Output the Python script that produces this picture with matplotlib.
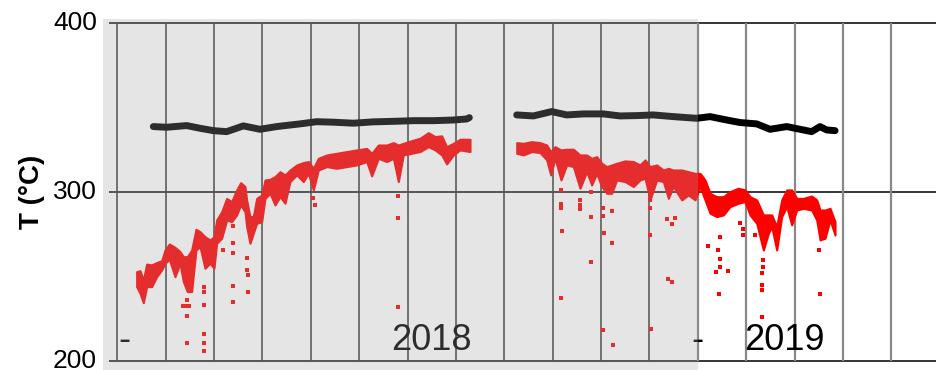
import matplotlib
matplotlib.use('Agg')
import matplotlib.pyplot as plt

plt.rcParams['font.family'] = ['Liberation Sans', 'DejaVu Sans']

# x = months since 1 Jan 2018, T in degC
black_2018_m = [0.745, 1.020, 1.434, 1.710, 1.985, 2.261, 2.606, 2.950, 3.295, 3.777, 4.122, 4.466, 4.880,
                5.293, 5.707, 6.120, 6.534, 6.947, 7.223, 7.278]
black_2018_t = [338.8, 338.4, 339.4, 337.8, 336.4, 335.8, 339.2, 337.2, 338.8, 340.4, 341.7, 341.4, 340.8,
                341.6, 341.9, 342.3, 342.3, 342.7, 343.3, 344.1]

black_2019_m = [8.257, 8.601, 8.980, 9.290, 9.635, 10.048, 10.393, 10.738, 11.082, 11.495, 11.978, 12.254,
                12.598, 12.874, 13.218, 13.494, 13.839, 14.114, 14.355, 14.528, 14.665, 14.838]
black_2019_t = [345.7, 345.1, 347.7, 345.7, 346.3, 346.3, 345.1, 345.3, 345.7, 344.7, 343.7, 344.7,
                342.7, 341.2, 340.4, 337.2, 338.8, 337.2, 335.8, 338.8, 336.8, 336.4]

red_2018_m = [0.400, 0.469, 0.538, 0.607, 0.710, 0.814, 0.917, 0.986, 1.076, 1.193, 1.296, 1.365, 1.448,
              1.537, 1.627, 1.710, 1.813, 1.916, 1.999, 2.054, 2.158, 2.261, 2.364, 2.468, 2.550, 2.640,
              2.674, 2.743, 2.812, 2.881, 2.985, 3.054, 3.157, 3.260, 3.364, 3.467, 3.570, 3.708, 3.846,
              3.949, 4.053, 4.156, 4.328, 4.535, 4.742, 4.949, 5.155, 5.259, 5.397, 5.569, 5.707, 5.810,
              5.913, 6.086, 6.258, 6.430, 6.568, 6.706, 6.809, 6.947, 7.085, 7.292]
red_2018_hi = [252.9, 253.5, 248.0, 257.4, 256.9, 258.3, 259.4, 265.7, 269.3, 267.3, 264.8, 261.8, 261.8,
               265.7, 278.0, 276.6, 273.6, 271.7, 273.6, 283.5, 288.4, 296.3, 294.4, 301.3, 305.6, 303.3,
               295.4, 285.5, 285.5, 296.3, 298.3, 307.2, 307.6, 309.2, 312.1, 310.2, 313.1, 316.1, 317.5,
               318.1, 314.1, 320.0, 322.0, 323.0, 324.0, 325.0, 325.9, 323.0, 327.9, 327.9, 329.3, 327.9,
               328.9, 330.5, 331.9, 335.2, 332.9, 333.3, 326.9, 328.9, 331.3, 331.3]
red_2018_lo = [244.0, 240.1, 234.5, 244.0, 244.0, 249.9, 253.9, 257.9, 260.2, 249.9, 257.9, 247.0, 241.1,
               241.1, 265.7, 267.7, 254.9, 257.9, 254.9, 269.7, 272.7, 283.5, 282.5, 286.5, 292.4, 288.4,
               279.6, 269.7, 275.6, 281.5, 282.5, 296.3, 299.3, 292.4, 297.3, 293.4, 306.2, 310.2, 306.2,
               311.2, 301.3, 313.1, 315.1, 314.1, 315.1, 316.1, 318.1, 309.6, 320.0, 318.1, 320.0, 306.2,
               322.0, 323.0, 324.0, 326.9, 325.0, 322.0, 316.7, 322.0, 325.0, 324.0]

red_2019_m = [8.257, 8.394, 8.567, 8.739, 8.877, 8.959, 9.049, 9.173, 9.290, 9.428, 9.566, 9.704, 9.807,
              9.910, 10.014, 10.117, 10.221, 10.324, 10.496, 10.669, 10.806, 10.910, 11.013, 11.151, 11.289,
              11.392, 11.495, 11.668, 11.806, 11.943, 12.047, 12.150, 12.254, 12.391, 12.529, 12.667,
              12.839, 12.977, 13.080, 13.218, 13.356, 13.460, 13.528, 13.632, 13.735, 13.839, 13.942,
              14.045, 14.183, 14.355, 14.459, 14.528, 14.631, 14.734, 14.838]
red_2019_hi = [329.3, 328.9, 329.9, 329.3, 327.9, 324.0, 326.9, 325.0, 325.4, 325.4, 322.0, 322.0, 320.0,
               321.0, 317.1, 315.1, 316.1, 317.1, 318.5, 318.1, 316.1, 319.1, 315.1, 316.1, 313.1, 314.1,
               313.1, 313.1, 312.1, 311.1, 311.1, 307.2, 299.3, 297.3, 297.3, 300.3, 302.3, 301.3, 297.3,
               295.4, 286.5, 286.5, 286.5, 279.6, 295.4, 301.3, 301.3, 296.3, 296.3, 297.7, 295.4, 289.4,
               289.4, 290.4, 282.5]
red_2019_lo = [323.0, 322.0, 324.0, 323.4, 319.1, 310.2, 320.0, 307.2, 316.1, 315.1, 302.3, 312.1, 304.2,
               311.1, 303.3, 299.3, 299.3, 307.2, 306.2, 303.3, 307.2, 308.2, 295.4, 307.2, 306.2, 296.3,
               303.3, 295.4, 298.3, 295.4, 303.3, 295.4, 287.5, 285.5, 286.5, 291.4, 293.4, 294.4, 286.5,
               281.5, 265.7, 275.6, 279.6, 265.7, 285.5, 291.4, 280.6, 289.4, 290.4, 289.4, 283.5, 271.7,
               272.7, 283.5, 274.6]

# isolated low readings
out_m = [1.448, 1.420, 1.489, 1.365, 1.448, 1.448, 1.792, 1.792, 1.792, 1.792, 1.792, 1.792, 2.192, 2.399,
         2.399, 2.399, 2.399, 2.399, 2.674, 2.688, 2.702, 2.702, 4.053, 4.087, 5.810, 5.810, 5.810,
         9.166, 9.166, 9.166, 9.187, 9.166, 9.566, 9.566, 9.566, 9.793, 9.793, 9.793, 10.048, 10.048,
         10.062, 10.234, 10.234, 11.013, 11.013, 11.013, 11.371, 11.392, 11.461, 11.461, 11.530, 10.05,
         10.24, 11.03, 12.219, 12.426, 12.460, 12.460, 12.460, 12.378, 12.619, 12.874, 12.929, 12.929,
         13.184, 13.322, 13.322, 13.322, 14.514, 14.528, 12.447, 13.356, 13.342, 13.32]
out_t = [236.1, 232.8, 232.8, 232.8, 226.7, 210.5, 243.6, 241.1, 233.0, 215.8, 210.7, 205.9, 265.7, 280.0,
         270.1, 263.8, 244.4, 234.9, 261.2, 253.9, 250.9, 240.7, 296.3, 292.4, 297.7, 284.5, 232.2,
         301.3, 293.0, 290.4, 277.0, 237.1, 295.4, 292.4, 289.8, 299.9, 285.5, 258.8, 290.4, 285.9,
         275.6, 289.0, 270.1, 295.4, 290.4, 274.6, 284.1, 248.6, 247.0, 280.9, 284.5, 218.4,
         209.5, 218.8, 268.3, 265.7, 260.2, 255.9, 273.6, 252.7, 253.1, 281.9, 278.0, 274.6,
         274.6, 251.9, 245.0, 242.1, 265.7, 239.5, 239.7, 259.8, 255.9, 226.3]

y_ticks = [200, 300, 400]
month_lines = list(range(17))
year_labels = ['2018', '2019']
year_pos = [6.496, 13.79]
dash_pos = [0.153, 11.99]

fig = plt.figure(figsize=(9.36, 3.7), dpi=100)
ax = fig.add_axes([103.3 / 936, 0, (936 - 103.3) / 936, (370 - 19) / 370])
ax.set_xlim(-0.289, 16.925)
ax.set_ylim(194.67, 402.5)
for s in ax.spines.values():
    s.set_visible(False)
ax.set_xticks([])
ax.set_yticks([])

# y labels sit just left of the plot, right edge ~ x=97px
for v in y_ticks:
    ax.text(-0.42, v, str(v), fontsize=19, ha='right', va='center', clip_on=False)

ax.hlines(y_ticks, -0.17, 17, color='black', lw=1.1, zorder=1)
ax.vlines(month_lines[:12], 200, 400, color='#333333', lw=1.1, zorder=1)
ax.vlines(month_lines[12:], 200, 400, color='#888888', lw=1.6, zorder=1)

for lab, xp in zip(year_labels, year_pos):
    ax.text(xp, 206.5, lab, fontsize=26, ha='center', va='baseline', zorder=2)
for xp in dash_pos:
    ax.text(xp, 206.5, '-', fontsize=26, ha='center', va='baseline', zorder=2)

ax.plot(black_2018_m, black_2018_t, color='black', lw=5, solid_capstyle='round', zorder=3)
ax.plot(black_2019_m, black_2019_t, color='black', lw=5, solid_capstyle='round', zorder=3)

ax.fill_between(red_2018_m, red_2018_lo, red_2018_hi, color='red', lw=1.5, zorder=3)
ax.fill_between(red_2019_m, red_2019_lo, red_2019_hi, color='red', lw=1.5, zorder=3)
ax.plot(out_m, out_t, 's', color='red', ms=2.5, mew=0, zorder=3)

# 2018 shaded over the data
ax.axvspan(-0.289, 12, color='#a5a5a5', alpha=0.28, lw=0, zorder=5)

fig.text(32 / 936, 1 - 192 / 370, 'T (°C)', rotation=90, fontsize=20, fontweight='bold',
         ha='center', va='center')

fig.savefig('out.png', dpi=100)
